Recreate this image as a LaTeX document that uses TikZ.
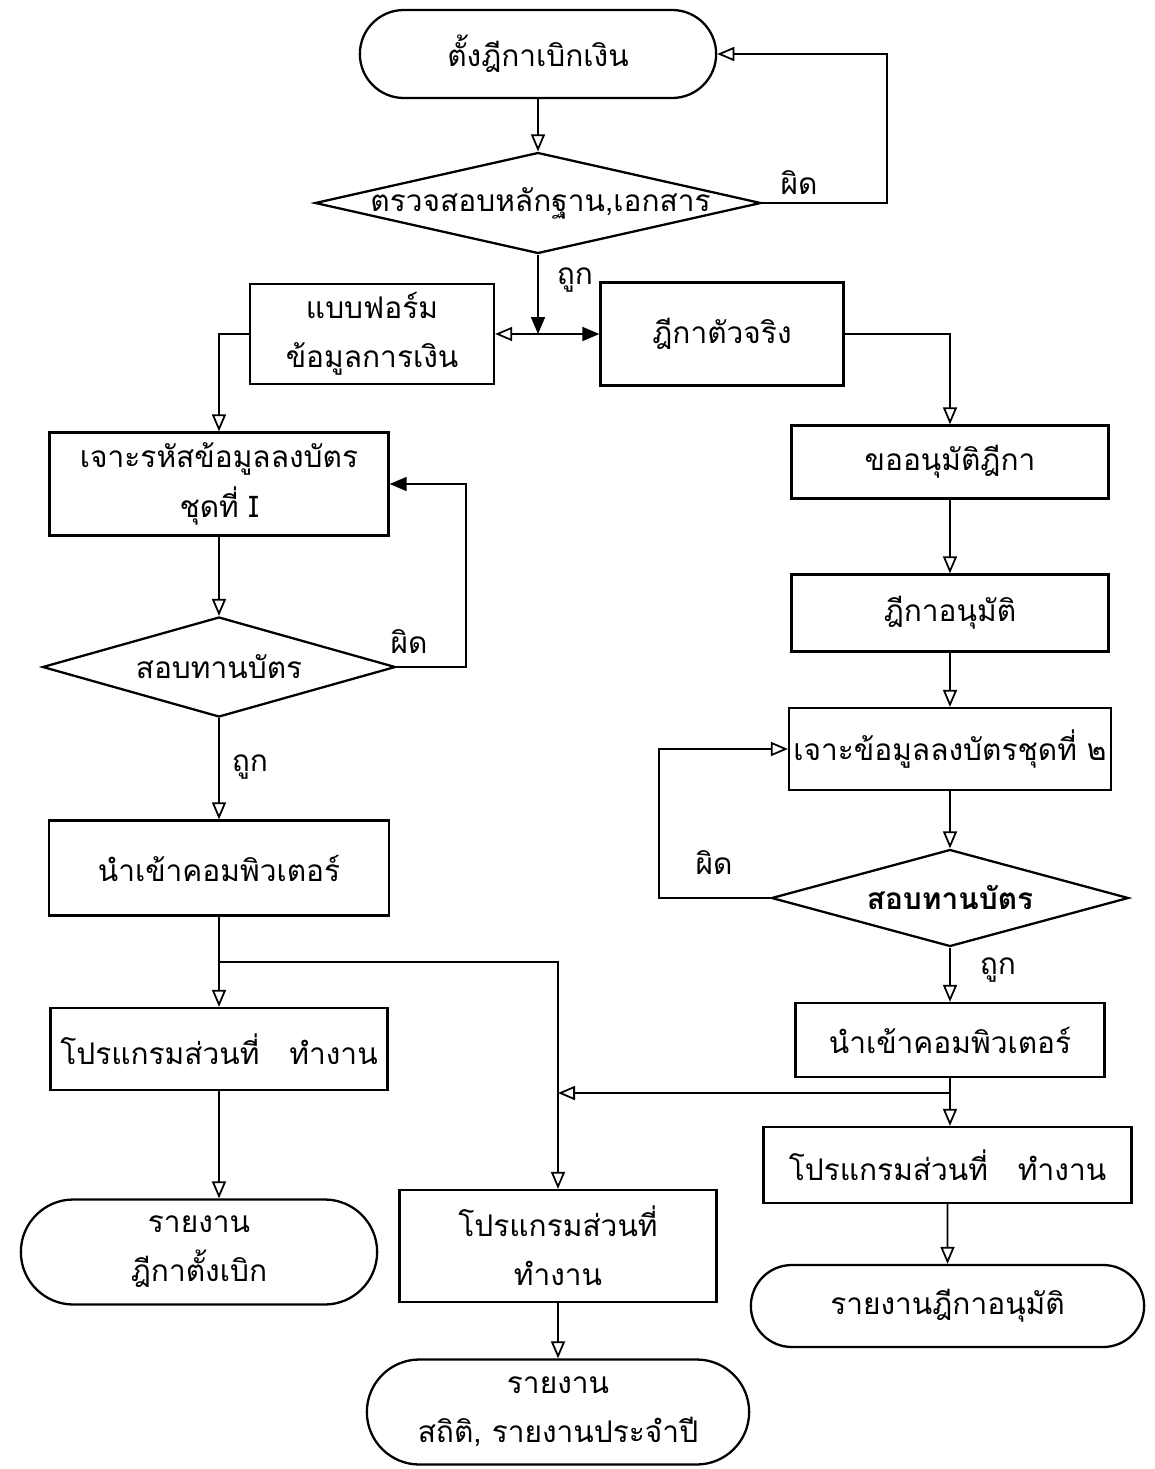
\documentclass[tikz,border=0pt]{standalone}
\usepackage{fontspec}
\newfontfamily\thaifont[Script=Thai]{Loma}
\newcommand{\thai}{\thaifont\fontsize{17}{28}\selectfont}
\newcommand{\dtext}[1]{\makebox[0pt]{#1}}
\usetikzlibrary{shapes.geometric, shapes.misc, arrows.meta, calc}

\begin{document}
\begin{tikzpicture}[
    box/.style={rectangle, draw, line width=1.3pt, inner sep=2pt,
                align=center, font=\thai},
    term/.style={rounded rectangle, draw, line width=1.3pt,
                 align=center, font=\thai},
    dec/.style={diamond, draw, line width=1.3pt, inner sep=0pt, font=\thai},
    arr/.style={-{Triangle[open, length=3.4mm, width=2.8mm]}, line width=1pt},
    arrf/.style={-{Triangle[length=3.4mm, width=2.8mm]}, line width=1pt},
    lbl/.style={font=\thai}
  ]
  \useasboundingbox (0,0) rectangle (23.1,-29.38);

  % Top: start and check of documents
  \node[term, minimum width=7.36cm, minimum height=1.76cm] (start) at (10.76,-1.08) {ตั้งฎีกาเบิกเงิน};
  \node[dec, minimum width=8.92cm, minimum height=2.02cm] (chk) at (10.76,-4.06) {\dtext{\hspace{0.1cm}ตรวจสอบหลักฐาน,เอกสาร}};
  \draw[arr] (start) -- (chk);
  \draw[arr] (chk.east) -- ++(2.5,0) |- (start.east);
  \node[lbl] (no0) at (15.98,-3.66) {ผิด};

  % Split into form and original
  \node[box, minimum width=4.88cm, minimum height=2cm] (form) at (7.44,-6.68) {แบบฟอร์ม\\ข้อมูลการเงิน};
  \node[box, minimum width=4.86cm, minimum height=2.06cm] (orig) at (14.44,-6.68) {ฎีกาตัวจริง};
  \coordinate (sp) at (10.76,-6.68);
  \draw[arrf] (chk.south) -- (sp);
  \draw[arr] (sp) -- (form.east);
  \draw[arrf] (sp) -- (orig.west);
  \node[lbl] (yes0) at (11.5,-5.6) {ถูก};

  % Left column
  \node[box, minimum width=6.78cm, minimum height=2.06cm] (key1) at (4.38,-9.68) {เจาะรหัสข้อมูลลงบัตร\\ชุดที่ I};
  \draw[arr] (form.west) -| (key1.north);
  \node[dec, minimum width=7.06cm, minimum height=2cm] (ver1) at (4.38,-13.34) {\dtext{สอบทานบัตร}};
  \draw[arr] (key1) -- (ver1);
  \draw[arrf] (ver1.east) -- ++(1.38,0) |- (key1.east);
  \node[lbl] (no1) at (8.18,-12.84) {ผิด};
  \node[box, minimum width=6.8cm, minimum height=1.9cm] (comp1) at (4.38,-17.36) {นำเข้าคอมพิวเตอร์};
  \draw[arr] (ver1) -- (comp1);
  \node[lbl] (yes1) at (5.0,-15.34) {ถูก};
  \node[box, minimum width=6.74cm, minimum height=1.64cm] (prog1) at (4.38,-20.98) {โปรแกรมส่วนที่\quad ทำงาน};
  \draw[arr] (comp1) -- (prog1);
  \node[term, minimum width=7.36cm, minimum height=2.1cm] (rep1) at (3.98,-25.04) {รายงาน\\ฎีกาตั้งเบิก};
  \draw[arr] (prog1.south) -- (prog1.south |- rep1.north);

  % Middle branch
  \coordinate (br) at (4.38,-19.24);
  \node[box, minimum width=6.34cm, minimum height=2.24cm] (prog3) at (11.16,-24.92) {โปรแกรมส่วนที่\\ทำงาน};
  \draw[arr] (br) -| (prog3.north);
  \node[term, minimum width=7.88cm, minimum height=2.1cm] (rep2) at (11.16,-28.24) {รายงาน\\สถิติ, รายงานประจำปี};
  \draw[arr] (prog3) -- (rep2);

  % Right column
  \node[box, minimum width=6.34cm, minimum height=1.46cm] (req) at (19.0,-9.24) {ขออนุมัติฎีกา};
  \draw[arr] (orig.east) -| (req.north);
  \node[box, minimum width=6.34cm, minimum height=1.54cm] (appr) at (19.0,-12.26) {ฎีกาอนุมัติ};
  \draw[arr] (req) -- (appr);
  \node[box, minimum width=6.44cm, minimum height=1.64cm] (key2) at (19.0,-14.98) {เจาะข้อมูลลงบัตรชุดที่ ๒};
  \draw[arr] (appr) -- (key2);
  \node[dec, minimum width=7.14cm, minimum height=1.94cm] (ver2) at (19.0,-17.96) {\dtext{\bfseries สอบทานบัตร}};
  \draw[arr] (key2) -- (ver2);
  \draw[arr] (ver2.west) -- ++(-2.22,0) |- (key2.west);
  \node[lbl] (no2) at (14.28,-17.24) {ผิด};
  \node[box, minimum width=6.18cm, minimum height=1.48cm] (comp2) at (19.0,-20.8) {นำเข้าคอมพิวเตอร์};
  \draw[arr] (ver2) -- (comp2);
  \node[lbl] (yes2) at (19.96,-19.4) {ถูก};
  \node[box, minimum width=7.36cm, minimum height=1.52cm] (prog2) at (18.95,-23.3) {โปรแกรมส่วนที่\quad ทำงาน};
  \draw[arr] (comp2.south) -- (comp2.south |- prog2.north);
  \coordinate (mg) at (19.0,-21.86);
  \draw[arr] (mg) -- (mg -| prog3.north);
  \node[term, minimum width=8.1cm, minimum height=1.64cm] (rep3) at (18.95,-26.12) {รายงานฎีกาอนุมัติ};
  \draw[arr] (prog2) -- (rep3);
\end{tikzpicture}
\end{document}
